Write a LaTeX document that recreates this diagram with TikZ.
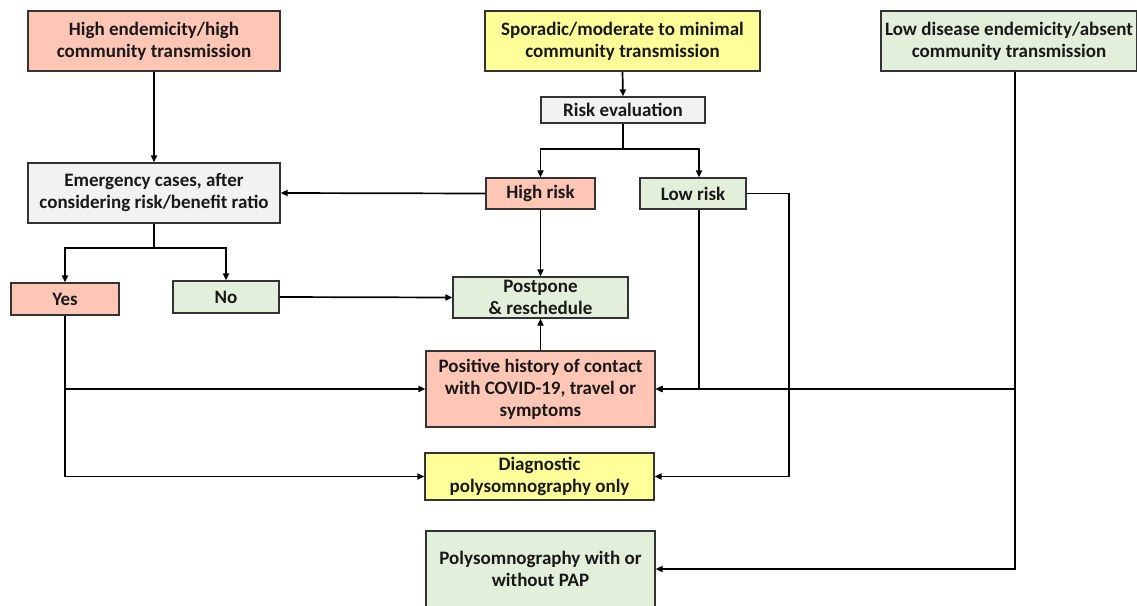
\documentclass[tikz,border=0pt]{standalone}
\usepackage{fontspec}
\setmainfont{Carlito}
\usetikzlibrary{arrows.meta}
\definecolor{salmon}{HTML}{FFC6B6}
\definecolor{yel}{HTML}{FFFF99}
\definecolor{grn}{HTML}{E2EFDA}
\definecolor{gry}{HTML}{F2F2F2}
\begin{document}
\begin{tikzpicture}[x=1pt,y=-1pt,
  box/.style={draw=black!80, line width=1.2pt, align=center, inner sep=0pt,
    font=\bfseries\fontsize{19}{22}\selectfont, text=black!90},
  ln/.style={line width=1.7pt, black},
  arr/.style={ln, -{Triangle[length=7pt,width=6pt]}}]
\useasboundingbox (0,0) rectangle (1137,605);
\node[box, fill=salmon, minimum width=252pt, minimum height=60pt] (he) at (154,41) {High endemicity/high\\community transmission};
\node[box, fill=yel, minimum width=275pt, minimum height=60pt] (sp) at (622.5,41) {Sporadic/moderate to minimal\\community transmission};
\node[box, fill=grn, minimum width=256pt, minimum height=60pt] (ld) at (1009,41) {Low disease endemicity/absent\\community transmission};
\node[box, fill=gry, minimum width=164pt, minimum height=26pt] (re) at (623,110) {Risk evaluation};
\node[box, fill=gry, minimum width=252pt, minimum height=60pt] (em) at (154,193) {Emergency cases, after\\considering risk/benefit ratio};
\node[box, fill=salmon, minimum width=109pt, minimum height=31pt] (hr) at (540.5,193.5) {High risk};
\node[box, fill=grn, minimum width=106pt, minimum height=31pt] (lr) at (693,193.5) {Low risk};
\node[box, fill=salmon, minimum width=108pt, minimum height=32pt] (yes) at (65,299) {Yes};
\node[box, fill=grn, minimum width=106pt, minimum height=32pt] (no) at (226,297) {No};
\node[box, fill=grn, minimum width=175pt, minimum height=41pt] (pp) at (540.5,297.5) {Postpone\\\& reschedule};
\node[box, fill=salmon, minimum width=229pt, minimum height=76pt] (pos) at (540.5,389) {Positive history of contact\\with COVID-19, travel or\\symptoms};
\node[box, fill=yel, minimum width=229pt, minimum height=47pt] (dg) at (539.5,476.5) {Diagnostic\\polysomnography only};
\node[box, fill=grn, minimum width=229pt, minimum height=76pt] (poly) at (540.5,569) {Polysomnography with or\\without PAP};
\coordinate (rj) at (623,149);
\coordinate (ej) at (154,248);
\coordinate (lrx) at (789,193.5);
\draw[arr] (he.south) -- (em.north);
\draw[arr] (sp.south) -- (re.north);
\draw[ln] (re.south) -- (rj);
\draw[arr] (rj) -| (hr.north);
\draw[arr] (rj) -| ([xshift=6pt]lr.north);
\draw[arr] (hr.west) -- (em.east);
\draw[arr] (hr.south) -- (pp.north);
\draw[ln] (em.south) -- (ej);
\draw[arr] (ej) -| (yes.north);
\draw[arr] (ej) -| (no.north);
\draw[arr] (no.east) -- (pp.west);
\draw[arr] (pos.north) -- (pp.south);
\draw[arr] (yes.south) |- (pos.west);
\draw[arr] (yes.south) |- (dg.west);
\draw[arr] ([xshift=6pt]lr.south) |- (pos.east);
\draw[arr] (lr.east) -- (lrx) |- (dg.east);
\draw[arr] ([xshift=6pt]ld.south) |- (pos.east);
\draw[arr] ([xshift=6pt]ld.south) |- (poly.east);
\end{tikzpicture}
\end{document}
